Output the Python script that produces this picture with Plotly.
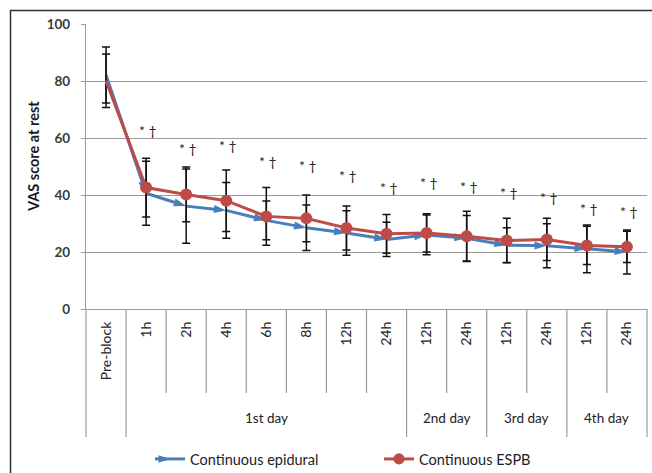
import plotly.graph_objects as go

# ---------------- data ----------------
time_labels = ["Pre-block", "1h", "2h", "4h", "6h", "8h", "12h", "24h",
               "12h", "24h", "12h", "24h", "12h", "24h"]
day_labels = ["1st day", "2nd day", "3rd day", "4th day"]
day_sizes = [7, 2, 2, 2]          # time points belonging to each day (after Pre-block)

epidural_mean = [82.1, 40.6, 36.1, 34.6, 31.1, 28.5, 26.7, 24.4, 26.0, 24.8, 22.4, 22.2, 21.1, 20.0]
epidural_sd = [9.8, 11.2, 13.0, 9.8, 6.8, 8.0, 7.8, 6.0, 7.0, 8.0, 6.1, 7.7, 8.4, 7.7]
espb_mean = [80.1, 42.6, 40.2, 38.0, 32.5, 31.8, 28.4, 26.4, 26.7, 25.5, 24.0, 24.4, 22.3, 21.8]
espb_sd = [9.4, 10.3, 9.6, 10.8, 10.1, 8.2, 7.7, 6.8, 6.7, 8.8, 7.8, 7.4, 6.7, 5.5]

sig_text = ["", "* †", "* †", "* †", "* †", "* †", "* †", "* †",
            "* †", "* †", "* †", "* †", "* †", "* †"]
sig_y = [None, 62.8, 56.4, 57.5, 51.6, 50.4, 47.0, 42.6, 44.3, 43.1, 40.8, 39.3, 35.3, 34.2]

y_ticks = [0, 20, 40, 60, 80, 100]

# ---------------- layout geometry ----------------
W, H = 652, 473
L, R, T, B = 86, 5, 24, 164
PW, PH = W - L - R, H - T - B
n = len(time_labels)
x = list(range(n))


def py(pix):   # pixel row -> paper y
    return (H - B - pix) / PH


def px(pix):   # pixel column -> paper x
    return (pix - L) / PW


FONT = "Lato"
BLUE = "#4a7ebb"
RED = "#be4b48"

fig = go.Figure()

fig.add_trace(go.Scatter(
    x=x, y=epidural_mean, name="Continuous epidural", mode="lines+markers",
    line=dict(color=BLUE, width=3),
    marker=dict(symbol="arrow", angleref="previous", color=BLUE, opacity=1,
                size=[0] + [13] * (n - 1), line=dict(width=0)),
    error_y=dict(type="data", array=epidural_sd, color="#111111",
                 thickness=1.5, width=4),
))
fig.add_trace(go.Scatter(
    x=x, y=espb_mean, name="Continuous ESPB", mode="lines+markers",
    line=dict(color=RED, width=3),
    marker=dict(symbol="circle", color=RED, opacity=1, size=[0] + [12] * (n - 1),
                line=dict(width=0)),
    error_y=dict(type="data", array=espb_sd, color="#111111",
                 thickness=1.5, width=4),
))

shapes = []
# group boundaries
bounds = [0, 1]
for s in day_sizes:
    bounds.append(bounds[-1] + s)
for k in range(n + 1):
    yb = py(437) if k in bounds else py(393)
    shapes.append(dict(type="line", xref="paper", yref="paper",
                       x0=k / n, x1=k / n, y0=0, y1=yb,
                       line=dict(color="#9a9a9a", width=1.2)))
# outer frame
shapes.append(dict(type="rect", xref="paper", yref="paper",
                   x0=px(10.5), x1=px(665), y0=py(10.5), y1=py(490),
                   line=dict(color="#333333", width=1.5), layer="below"))

annotations = []
for i, (t, yy) in enumerate(zip(sig_text, sig_y)):
    if yy is None or not t:
        continue
    annotations.append(dict(x=i + 0.05, y=yy, xref="x", yref="y", text=t,
                            showarrow=False, font=dict(family=FONT, size=14, color="#2b2520"),
                            xanchor="center", yanchor="middle"))
start = 1
for lab, s in zip(day_labels, day_sizes):
    annotations.append(dict(x=start + (s - 1) / 2, y=py(418), xref="x", yref="paper",
                            text=lab, showarrow=False,
                            font=dict(family=FONT, size=13.5, color="#222222"),
                            xanchor="center", yanchor="middle"))
    start += s
annotations.append(dict(x=px(33), y=py(157), xref="paper", yref="paper",
                        text="<b>VAS score at rest</b>", textangle=-90, showarrow=False,
                        font=dict(family=FONT, size=14.5, color="#1a1a1a"),
                        xanchor="center", yanchor="middle"))

fig.update_layout(
    width=W, height=H,
    margin=dict(l=L, r=R, t=T, b=B, pad=0, autoexpand=False),
    paper_bgcolor="white", plot_bgcolor="white",
    font=dict(family=FONT, size=13, color="#222222"),
    xaxis=dict(range=[-0.5, n - 0.5], tickmode="array", tickvals=x, ticktext=time_labels,
               tickangle=-90, showgrid=False, zeroline=False, showline=True,
               linecolor="#9a9a9a", linewidth=1.2, ticks="", ticklabelstandoff=6,
               automargin=False,
               tickfont=dict(family=FONT, size=14, color="#222222"), fixedrange=True),
    yaxis=dict(range=[0, 100], tickmode="array", tickvals=y_ticks,
               showgrid=True, gridcolor="#9a9a9a", gridwidth=1.2, zeroline=False,
               showline=True, linecolor="#9a9a9a", linewidth=1.2, automargin=False,
               ticks="outside", ticklen=4, tickcolor="#9a9a9a", ticklabelstandoff=8,
               tickfont=dict(family=FONT, size=13.5, color="#3a3a3a", weight="bold")),
    showlegend=True,
    legend=dict(orientation="h", x=px(150), xanchor="left", y=py(459), yanchor="middle",
                font=dict(family=FONT, size=14.5, color="#222222"),
                entrywidth=184, bgcolor="rgba(0,0,0,0)"),
    shapes=shapes, annotations=annotations,
)

fig.write_html("out.html", post_script="document.body.style.margin='0';",
               config={"displayModeBar": False})
